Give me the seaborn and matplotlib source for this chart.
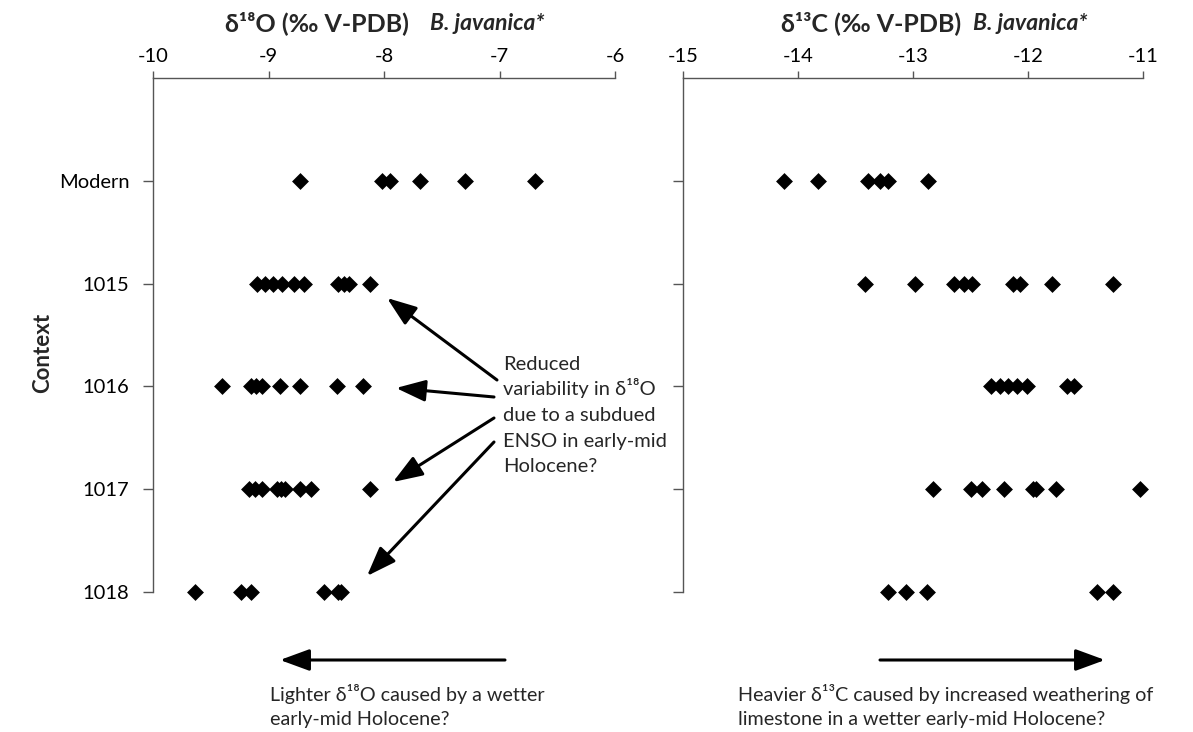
import matplotlib
matplotlib.use("Agg")
import matplotlib.pyplot as plt
import seaborn as sns
import pandas as pd

# ---------------- data ----------------
contexts = ["Modern", "1015", "1016", "1017", "1018"]

d18O_modern = [-8.73, -8.02, -7.95, -7.69, -7.30, -6.69]
d18O_1015 = [-9.10, -9.03, -8.96, -8.88, -8.78, -8.69, -8.40, -8.35, -8.30, -8.12]
d18O_1016 = [-9.40, -9.15, -9.11, -9.06, -8.90, -8.73, -8.41, -8.18]
d18O_1017 = [-9.17, -9.12, -9.06, -8.93, -8.89, -8.86, -8.73, -8.63, -8.12]
d18O_1018 = [-9.64, -9.24, -9.15, -8.52, -8.40, -8.37]

d13C_modern = [-14.12, -13.83, -13.39, -13.29, -13.22, -12.87]
d13C_1015 = [-13.42, -12.98, -12.64, -12.56, -12.49, -12.13, -12.07, -11.79, -11.26]
d13C_1016 = [-12.32, -12.24, -12.17, -12.10, -12.01, -11.66, -11.60]
d13C_1017 = [-12.83, -12.50, -12.40, -12.21, -11.96, -11.93, -11.76, -11.03]
d13C_1018 = [-13.22, -13.06, -12.88, -11.40, -11.26]

o_xticks = [-10, -9, -8, -7, -6]
c_xticks = [-15, -14, -13, -12, -11]

title_o = "δ¹⁸O (‰ V-PDB)"
title_c = "δ¹³C (‰ V-PDB)"
species = "B. javanica*"
ylabel = "Context"
note_mid = ["Reduced", "variability in δ¹⁸O", "due to a subdued",
            "ENSO in early-mid", "Holocene?"]
note_o = ["Lighter δ¹⁸O caused by a wetter", "early-mid Holocene?"]
note_c = ["Heavier δ¹³C caused by increased weathering of",
          "limestone in a wetter early-mid Holocene?"]


def long_df(series):
    rows = []
    for ctx, vals in zip(contexts, series):
        for v in vals:
            rows.append({"context": ctx, "value": v})
    return pd.DataFrame(rows)


df_o = long_df([d18O_modern, d18O_1015, d18O_1016, d18O_1017, d18O_1018])
df_c = long_df([d13C_modern, d13C_1015, d13C_1016, d13C_1017, d13C_1018])

# ---------------- style ----------------
sns.set_theme(style="white")
FAM = ["Lato", "DejaVu Sans"]
plt.rcParams["font.family"] = FAM

W, H = 1193, 732
fig = plt.figure(figsize=(W / 100, H / 100), dpi=100)


def fx(x):
    return x / W


def fy(y):
    return 1 - y / H


ax_l = fig.add_axes([fx(153), fy(592), fx(615) - fx(153), fy(78) - fy(592)])
ax_r = fig.add_axes([fx(683), fy(592), fx(1143) - fx(683), fy(78) - fy(592)])

spine_col = "#555555"
for ax, df, xt in [(ax_l, df_o, o_xticks), (ax_r, df_c, c_xticks)]:
    sns.stripplot(data=df, x="value", y="context", order=contexts, orient="h",
                  jitter=False, marker="D", color="black", size=8.6,
                  linewidth=0, ax=ax)
    for coll in ax.collections:
        coll.set_clip_on(False)
        coll.set_zorder(5)
    ax.set_xlim(xt[0], xt[-1])
    ax.set_ylim(4, -1)
    ax.set_xticks(xt)
    ax.set_xticklabels([str(t) for t in xt])
    ax.xaxis.tick_top()
    ax.set_xlabel("")
    ax.set_ylabel("")
    for s in ["right", "bottom"]:
        ax.spines[s].set_visible(False)
    for s in ["top", "left"]:
        ax.spines[s].set_visible(True)
        ax.spines[s].set_color(spine_col)
        ax.spines[s].set_linewidth(1.0)
    ax.spines["left"].set_bounds(-1, 4)
    ax.tick_params(axis="x", which="both", top=True, bottom=False, direction="out",
                   length=5, width=1, color=spine_col, labelsize=14.5, pad=4,
                   labelcolor="black")
    ax.tick_params(axis="y", left=True, direction="out", length=7, width=1,
                   color=spine_col, labelsize=14.5, pad=10, labelcolor="black")
    ax.set_yticks(range(len(contexts)))
    ax.set_facecolor("white")
    ax.grid(False)

ax_l.set_yticklabels(contexts)
ax_r.set_yticklabels([])

# ---------------- titles ----------------
fig.text(fx(409), fy(23), title_o, ha="right", va="center", fontsize=18,
         fontweight="bold", family=FAM)
fig.text(fx(430), fy(23), species, ha="left", va="center", fontsize=16.5,
         fontweight="bold", style="italic", family=FAM)
fig.text(fx(961), fy(23), title_c, ha="right", va="center", fontsize=18,
         fontweight="bold", family=FAM)
fig.text(fx(973), fy(23), species, ha="left", va="center", fontsize=16.5,
         fontweight="bold", style="italic", family=FAM)

fig.text(fx(43), fy(353), ylabel, ha="center", va="center", rotation=90,
         fontsize=16, fontweight="bold", family=FAM)

# ---------------- annotations ----------------
for i, line in enumerate(note_mid):
    fig.text(fx(503), fy(370 + 25.5 * i), line, ha="left", va="baseline",
             fontsize=14.5, family=FAM)

arr = dict(arrowstyle="-|>,head_length=0.9,head_width=0.33", lw=2.2,
           color="black", shrinkA=0, shrinkB=0, mutation_scale=20)
for (x0, y0), (x1, y1) in [((497, 380), (387, 298)),
                           ((494, 397), (396, 388)),
                           ((494, 418), (393, 482)),
                           ((494, 442), (367, 576))]:
    fig.add_artist(matplotlib.patches.FancyArrowPatch(
        (fx(x0), fy(y0)), (fx(x1), fy(y1)), transform=fig.transFigure, **arr))

fig.add_artist(matplotlib.patches.FancyArrowPatch(
    (fx(505), fy(660)), (fx(280), fy(660)), transform=fig.transFigure, **arr))
fig.add_artist(matplotlib.patches.FancyArrowPatch(
    (fx(880), fy(660)), (fx(1105), fy(660)), transform=fig.transFigure, **arr))

for i, line in enumerate(note_o):
    fig.text(fx(270), fy(701 + 23.5 * i), line, ha="left", va="baseline",
             fontsize=14.2, family=FAM)
for i, line in enumerate(note_c):
    fig.text(fx(738), fy(701 + 23.5 * i), line, ha="left", va="baseline",
             fontsize=14.2, family=FAM)

fig.savefig("out.png", dpi=100, facecolor="white")
